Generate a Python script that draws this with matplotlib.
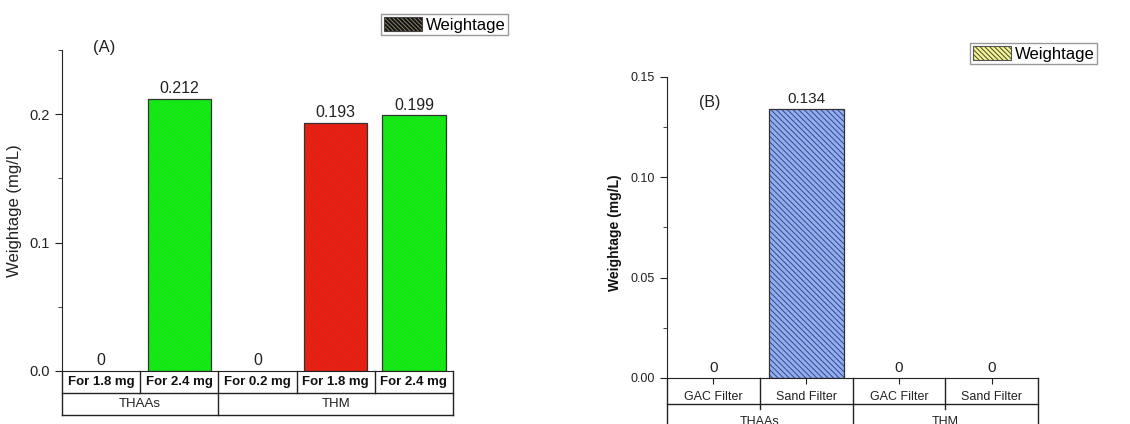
"""
Weightage (mg/L) of THAAs / THM: (A) by coagulant dose, (B) by filter type.
Bars carry a fine diagonal hatch; the x axis is drawn as a two-row table.
"""

import matplotlib
matplotlib.use("Agg")
import matplotlib.pyplot as plt
import matplotlib.transforms as mtransforms
from matplotlib.legend_handler import HandlerTuple
from matplotlib.patches import Patch
from matplotlib.ticker import MultipleLocator

plt.rcParams["font.family"] = ["Liberation Sans", "DejaVu Sans"]
plt.rcParams["hatch.linewidth"] = 0.7

# panel (A)
a_items = ["For 1.8 mg", "For 2.4 mg", "For 0.2 mg", "For 1.8 mg", "For 2.4 mg"]
a_groups = ["THAAs", "THM"]
a_group_sizes = [2, 3]
a_values = [0, 0.212, 0, 0.193, 0.199]
a_colors = ["#00ff00", "#00ff00", "#00ff00", "#ff1a0a", "#00ff00"]
a_hatch_colors = ["#33c733", "#33c733", "#33c733", "#c02a20", "#33c733"]

# panel (B)
b_items = ["GAC Filter", "Sand Filter", "GAC Filter", "Sand Filter"]
b_groups = ["THAAs", "THM"]
b_group_sizes = [2, 2]
b_values = [0, 0.134, 0, 0]
b_colors = ["#93aeee"] * 4
b_hatch_colors = ["#34488a"] * 4


def hatched_bars(ax, values, colors, hatch_colors, hatch):
    x = range(len(values))
    bars = ax.bar(x, values, width=0.81, color=colors, edgecolor="none",
                  linewidth=0, zorder=2)
    # hatch drawn as a second layer so its colour can differ from the outline
    ax.bar(x, values, width=0.81, color="none", edgecolor=hatch_colors,
           linewidth=0, hatch=hatch, zorder=3)
    for b, v in zip(ax.bar(x, values, width=0.81, color="none",
                           edgecolor="#333333", linewidth=0.9, zorder=4),
                    values):
        b.set_visible(v > 0)
    return bars


def draw_table(ax, items, groups, sizes, row_h, item_kw, group_kw,
               inner_ext=0.0, item_y=0.5, group_y=1.5):
    """Two-row category table under the x axis (row_h in axes fraction)."""
    tr = mtransforms.blended_transform_factory(ax.transData, ax.transAxes)
    n = len(items)
    lo, hi = -0.5, n - 0.5
    kw = dict(color="#222222", lw=1.0, transform=tr, clip_on=False)
    ax.plot([lo, hi], [-row_h, -row_h], **kw)
    ax.plot([lo, hi], [-2 * row_h, -2 * row_h], **kw)
    ax.plot([lo, lo], [0, -2 * row_h], **kw)
    ax.plot([hi, hi], [0, -2 * row_h], **kw)
    edges = []
    start = 0
    for s in sizes:
        edges.append((start, start + s))
        start += s
    for a, b in edges:
        for k in range(a + 1, b):
            ax.plot([k - 0.5, k - 0.5], [0, -row_h - inner_ext], **kw)
        if b < n:
            ax.plot([b - 0.5, b - 0.5], [0, -2 * row_h], **kw)
    for i, lab in enumerate(items):
        ax.text(i, -item_y * row_h, lab, transform=tr, ha="center",
                va="center", **item_kw)
    for (a, b), g in zip(edges, groups):
        ax.text((a + b - 1) / 2, -group_y * row_h, g, transform=tr,
                ha="center", va="center", **group_kw)


fig = plt.figure(figsize=(11.3, 4.24), dpi=100)

# ---------------- panel A ----------------
ax1 = fig.add_axes([62 / 1130, 53 / 424, 391 / 1130, 321 / 424])
bars = hatched_bars(ax1, a_values, a_colors, a_hatch_colors, "\\" * 10)
ax1.bar_label(bars, labels=[f"{v:g}" for v in a_values], padding=2,
              fontsize=11.5, color="#222222")
ax1.set_xlim(-0.5, len(a_values) - 0.5)
ax1.set_ylim(0, 0.25)
ax1.yaxis.set_major_locator(MultipleLocator(0.1))
ax1.yaxis.set_minor_locator(MultipleLocator(0.05))
ax1.tick_params(axis="y", which="major", direction="out", length=5,
                labelsize=10.5, labelcolor="#222222", color="#222222")
ax1.tick_params(axis="y", which="minor", direction="out", length=3,
                color="#222222")
ax1.set_xticks([])
for side in ("top", "right"):
    ax1.spines[side].set_visible(False)
for side in ("left", "bottom"):
    ax1.spines[side].set_color("#222222")
ax1.set_ylabel("Weightage (mg/L)", fontsize=12, color="#222222")
ax1.yaxis.set_label_coords(-0.102, 0.5)
ax1.text(0.107, 1.008, "(A)", transform=ax1.transAxes, ha="center",
         va="center", fontsize=12, color="#222222")
draw_table(ax1, a_items, a_groups, a_group_sizes, 22 / 321,
           dict(fontsize=9.5, fontweight="bold", color="#111111"),
           dict(fontsize=9.5, color="#222222"))

# ---------------- panel B ----------------
ax2 = fig.add_axes([667 / 1130, 46 / 424, 371 / 1130, 301 / 424])
bars = hatched_bars(ax2, b_values, b_colors, b_hatch_colors, "\\" * 6)
ax2.bar_label(bars, labels=[f"{v:g}" for v in b_values], padding=2,
              fontsize=11, color="#222222")
ax2.set_xlim(-0.5, len(b_values) - 0.5)
ax2.set_ylim(0, 0.15)
ax2.yaxis.set_major_locator(MultipleLocator(0.05))
ax2.yaxis.set_minor_locator(MultipleLocator(0.025))
ax2.yaxis.set_major_formatter(lambda v, pos: f"{v:.2f}")
ax2.tick_params(axis="y", which="major", direction="out", length=5,
                labelsize=9, labelcolor="#222222", color="#222222")
ax2.tick_params(axis="y", which="minor", direction="out", length=3,
                color="#222222")
ax2.set_xticks(range(len(b_values)))
ax2.set_xticklabels([])
ax2.tick_params(axis="x", direction="out", length=4, color="#222222")
for side in ("top", "right"):
    ax2.spines[side].set_visible(False)
for side in ("left", "bottom"):
    ax2.spines[side].set_color("#222222")
ax2.set_ylabel("Weightage (mg/L)", fontsize=10, fontweight="bold",
               color="#111111")
ax2.yaxis.set_label_coords(-0.121, 0.483)
ax2.text(0.116, 0.915, "(B)", transform=ax2.transAxes, ha="center",
         va="center", fontsize=11.5, color="#222222")
draw_table(ax2, b_items, b_groups, b_group_sizes, 26 / 301,
           dict(fontsize=9, color="#222222"),
           dict(fontsize=9, color="#222222"), inner_ext=5 / 301,
           item_y=0.72, group_y=1.68)

# ---------------- legends ----------------
leg_a = (Patch(facecolor="#111111", edgecolor="none"),
         Patch(facecolor="none", edgecolor="#8c8468", lw=0, hatch="\\" * 8),
         Patch(facecolor="none", edgecolor="#444444", lw=0.8))
leg_b = (Patch(facecolor="#f2f29a", edgecolor="none"),
         Patch(facecolor="none", edgecolor="#4a4a20", lw=0, hatch="\\" * 7),
         Patch(facecolor="none", edgecolor="#555555", lw=0.8))
for handle, anchor in ((leg_a, (381 / 1130, 1 - 14 / 424)),
                       (leg_b, (970 / 1130, 1 - 43 / 424))):
    lg = fig.legend([handle], ["Weightage"], loc="upper left",
                    bbox_to_anchor=anchor, borderaxespad=0, fontsize=12,
                    handlelength=2.3, handleheight=1.0, handletextpad=0.25,
                    borderpad=0.15, fancybox=False, framealpha=1,
                    edgecolor="#999999",
                    handler_map={tuple: HandlerTuple(ndivide=1)})
    lg.get_frame().set_linewidth(1.0)

fig.savefig("out.png", dpi=100)
